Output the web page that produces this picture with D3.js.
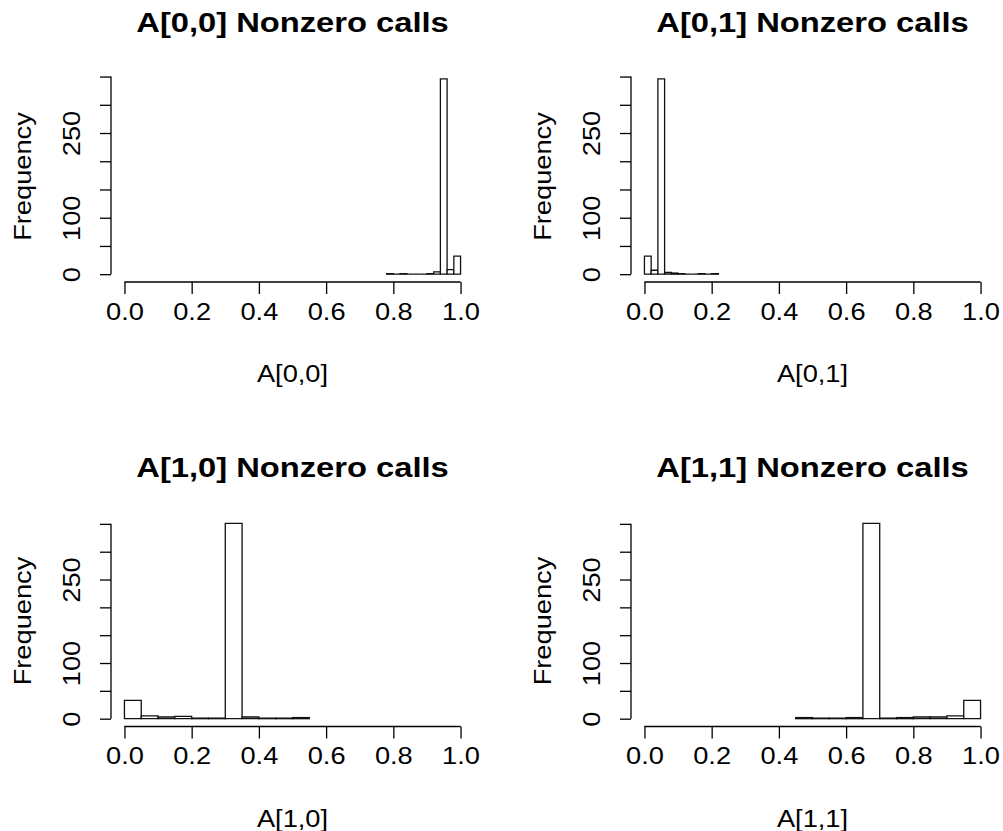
<!DOCTYPE html>
<html>
    <head>
        <meta charset="utf-8">
        <script src="https://d3js.org/d3.v7.min.js"></script>
        <title>Nonzero calls</title>
        <style>
            body {margin: 0; background-color: white;}
            text {font-family: "Liberation Sans", Arial, Helvetica, sans-serif; fill: black;}
        </style>
    </head>
    <body>
        <script>
            // histogram bins
            const a00Breaks = [0.78, 0.80, 0.82, 0.84, 0.86, 0.88, 0.90, 0.92, 0.94, 0.96, 0.98, 1.00]
            const a00Counts = [1, 0, 1, 0, 0, 0, 1, 4, 346, 8, 32]

            const a01Breaks = [0.00, 0.02, 0.04, 0.06, 0.08, 0.10, 0.12, 0.14, 0.16, 0.18, 0.20, 0.22]
            const a01Counts = [32, 7, 346, 3, 2, 1, 0, 0, 1, 0, 1]

            const a10Breaks = [0.00, 0.05, 0.10, 0.15, 0.20, 0.25, 0.30, 0.35, 0.40, 0.45, 0.50, 0.55]
            const a10Counts = [33, 5, 3, 4, 1, 1, 351, 3, 1, 1, 2]

            const a11Breaks = [0.45, 0.50, 0.55, 0.60, 0.65, 0.70, 0.75, 0.80, 0.85, 0.90, 0.95, 1.00]
            const a11Counts = [2, 1, 1, 2, 351, 1, 2, 3, 3, 5, 33]

            const titles = ['A[0,0] Nonzero calls', 'A[0,1] Nonzero calls', 'A[1,0] Nonzero calls', 'A[1,1] Nonzero calls']
            const xLabels = ['A[0,0]', 'A[0,1]', 'A[1,0]', 'A[1,1]']
            const xTicks = [0, 0.2, 0.4, 0.6, 0.8, 1.0]
            const yTicks = [0, 50, 100, 150, 200, 250, 300, 350]
            const yShown = [0, 100, 250]

            const panels = [
                {breaks: a00Breaks, counts: a00Counts, left: 111, top: 71},
                {breaks: a01Breaks, counts: a01Counts, left: 631, top: 71},
                {breaks: a10Breaks, counts: a10Counts, left: 111, top: 515.5},
                {breaks: a11Breaks, counts: a11Counts, left: 631, top: 515.5}
            ]

            const width = 1003
            const height = 831
            const plotW = 363
            const plotH = 211
            const fs = 23.5
            const wide = 'scale(1.16,1)'   // glyphs in the picture are a little wider than Liberation's

            const svg = d3.select('body')
                .append('svg')
                    .attr('width', width)
                    .attr('height', height)

            panels.forEach((p, i) => {
                const maxCount = d3.max(p.counts)
                const x = d3.scaleLinear().domain([-0.04, 1.04]).range([p.left, p.left + plotW])
                const y = d3.scaleLinear().domain([-0.04 * maxCount, 1.04 * maxCount]).range([p.top + plotH, p.top])
                const bottom = p.top + plotH
                const g = svg.append('g')

                // bars as closed paths so empty bins still show as a base line
                g.selectAll('path.bar')
                    .data(p.counts)
                    .enter()
                    .append('path')
                        .attr('class', 'bar')
                        .attr('d', (d, j) => {
                            const x0 = x(p.breaks[j]), x1 = x(p.breaks[j + 1])
                            return `M${x0},${y(0)}V${y(d)}H${x1}V${y(0)}Z`
                        })
                        .attr('fill', 'white')
                        .attr('stroke', '#111')
                        .attr('stroke-width', 1.3)

                // x axis
                const xa = g.append('g')
                    .attr('transform', `translate(0,${bottom})`)
                    .call(d3.axisBottom(x).tickValues(xTicks).tickSize(12).tickSizeOuter(0).tickFormat(d3.format('.1f')))
                xa.select('.domain').remove()
                xa.append('line')
                    .attr('x1', x(0)).attr('x2', x(1))
                    .attr('stroke', 'black').attr('stroke-width', 1.3)
                xa.selectAll('.tick line').attr('stroke-width', 1.3)
                xa.selectAll('.tick text')
                    .attr('y', 38).attr('dy', 0)
                    .attr('font-size', fs)
                    .attr('font-family', null)
                    .attr('transform', wide)

                // y axis
                const ya = g.append('g')
                    .attr('transform', `translate(${p.left},0)`)
                    .call(d3.axisLeft(y).tickValues(yTicks).tickSize(11).tickSizeOuter(0).tickFormat(d => yShown.includes(d) ? d : ''))
                ya.select('.domain').remove()
                ya.append('line')
                    .attr('y1', y(0)).attr('y2', y(350))
                    .attr('stroke', 'black').attr('stroke-width', 1.3)
                ya.selectAll('.tick line').attr('stroke-width', 1.3)
                ya.selectAll('.tick text')
                    .attr('x', 0).attr('y', 0).attr('dy', 0)
                    .attr('text-anchor', 'middle')
                    .attr('font-size', fs)
                    .attr('font-family', null)
                    .attr('transform', `translate(-31,0) rotate(-90) ${wide}`)

                // titles and labels
                const cx = p.left + plotW / 2
                g.append('text')
                    .attr('transform', `translate(${cx},${p.top - 39}) ${wide}`)
                    .attr('text-anchor', 'middle')
                    .attr('font-size', fs * 1.2)
                    .attr('font-weight', 'bold')
                    .text(titles[i])

                g.append('text')
                    .attr('transform', `translate(${cx},${bottom + 100}) ${wide}`)
                    .attr('text-anchor', 'middle')
                    .attr('font-size', fs)
                    .text(xLabels[i])

                g.append('text')
                    .attr('transform', `translate(${p.left - 80},${p.top + plotH / 2}) rotate(-90) ${wide}`)
                    .attr('text-anchor', 'middle')
                    .attr('font-size', fs)
                    .text('Frequency')
            })
        </script>
    </body>
</html>
